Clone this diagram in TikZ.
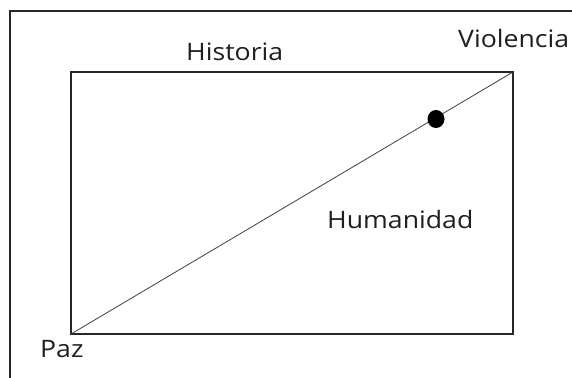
\documentclass[tikz,border=0pt]{standalone}
\usepackage{fontspec}
\setmainfont{Open Sans}[FakeStretch=1.11]
\begin{document}
\begin{tikzpicture}[x=1pt,y=-1pt,
  lbl/.style={anchor=base west,inner sep=0pt,font=\fontsize{24}{28}\selectfont,text=black!88},
  frame/.style={draw=black!85,line width=1.3pt},
  box/.style={draw=black!85,line width=1.1pt},
  diag/.style={draw=black!75,line width=0.8pt}]
\useasboundingbox (0,0) rectangle (572,377);
\clip (0,0) rectangle (572,377);
\fill[white] (0,0) rectangle (572,377);
\draw[frame] (10,11) rectangle (600,400);
\coordinate (tl) at (71,72);
\coordinate (br) at (513,334);
\coordinate (bl) at (71,334);
\coordinate (tr) at (513,72);
\draw[box] (tl) rectangle (br);
\draw[diag] (bl) -- (tr);
\fill[black] (436,119) ellipse (8.5 and 9);
\node[lbl] (hist) at (186,61) {Historia};
\node[lbl] (viol) at (458,48) {Violencia};
\node[lbl] (hum) at (327,228) {Humanidad};
\node[lbl] (paz) at (40,357) {Paz};
\end{tikzpicture}
\end{document}
